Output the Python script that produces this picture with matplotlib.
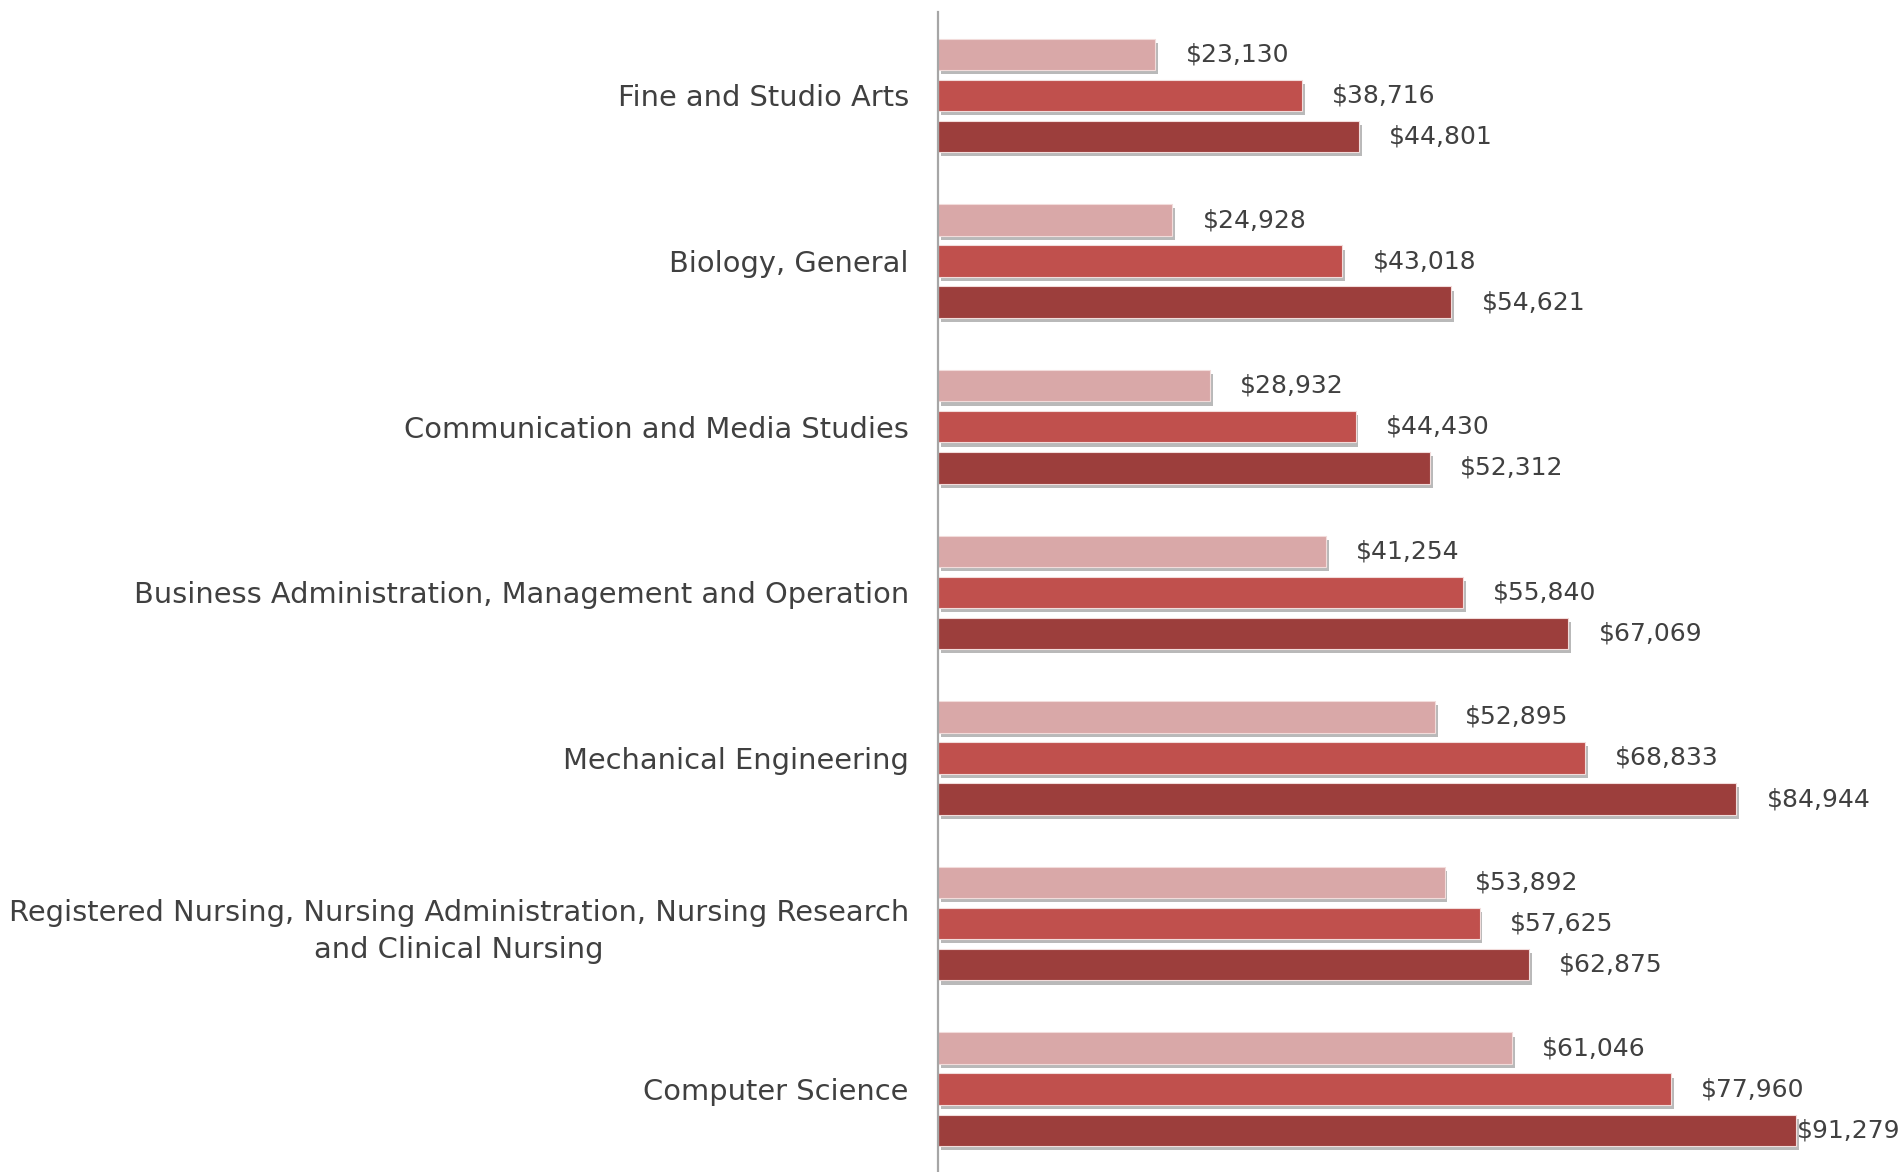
import matplotlib.pyplot as plt
import matplotlib.patheffects as pe

plt.rcParams['font.family'] = ['DejaVu Sans']

# --- Data ---
categories = [
    'Fine and Studio Arts',
    'Biology, General',
    'Communication and Media Studies',
    'Business Administration, Management and Operation',
    'Mechanical Engineering',
    'Registered Nursing, Nursing Administration, Nursing Research\nand Clinical Nursing',
    'Computer Science',
]
series_low = [23130, 24928, 28932, 41254, 52895, 53892, 61046]
series_mid = [38716, 43018, 44430, 55840, 68833, 57625, 77960]
series_high = [44801, 54621, 52312, 67069, 84944, 62875, 91279]

colors = ['#D9A8A8', '#C0504D', '#9C3E3C']
text_color = '#404040'

# --- Plotting ---
fig = plt.figure(figsize=(19.03, 11.72), dpi=100)
ax = fig.add_axes([938 / 1903, 0.0, 1 - 938 / 1903, 1 - 12 / 1172])

xmax = 102660
bar_h = 0.19
step = 0.248
shadow = [pe.SimplePatchShadow(offset=(2, -3), shadow_rgbFace='#808080', alpha=0.55), pe.Normal()]

for i, (vals, col) in enumerate(zip([series_low, series_mid, series_high], colors)):
    ys = [k + (i - 1) * step for k in range(len(categories))]
    bars = ax.barh(ys, vals, height=bar_h, color=col, edgecolor='#F2DCDB', linewidth=0.8)
    for b in bars:
        b.set_path_effects(shadow)
    for y, v in zip(ys, vals):
        label = f'${v:,.0f}'
        x = v + 3200
        if x + 11500 > xmax:
            ax.text(xmax - 300, y, label, ha='right', va='center', fontsize=18, color=text_color)
        else:
            ax.text(x, y, label, ha='left', va='center', fontsize=18, color=text_color)

ax.set_xlim(0, xmax)
ax.set_ylim(6.5, -0.504)
ax.set_yticks(range(len(categories)))
ax.set_yticklabels(categories, fontsize=20.8, color=text_color)
for lbl in ax.get_yticklabels():
    lbl.set_multialignment('center')
    lbl.set_linespacing(1.45)
ax.tick_params(axis='y', length=0, pad=21)
ax.set_xticks([])

for side in ['top', 'right', 'bottom']:
    ax.spines[side].set_visible(False)
ax.spines['left'].set_color('#A6A6A6')
ax.spines['left'].set_linewidth(1.6)

plt.savefig('out.png', dpi=100)
